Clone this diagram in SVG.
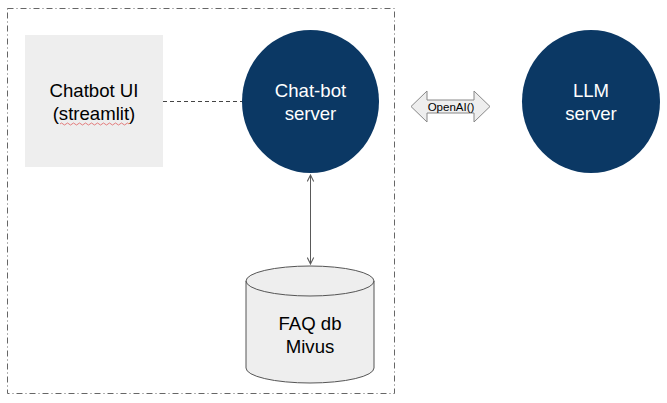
<svg xmlns="http://www.w3.org/2000/svg" width="667" height="403" viewBox="0 0 667 403">
<style>
.lbl{font-family:"Liberation Sans",Arial,sans-serif;font-size:18.6px;text-anchor:middle}
.dark{fill:#0b3864}
.w{fill:#ffffff}
.b{fill:#000000}
</style>
<defs>
<marker id="ah" viewBox="0 0 10 10" refX="9" refY="5" markerWidth="8" markerHeight="8" orient="auto-start-reverse" markerUnits="userSpaceOnUse">
<path d="M1,1 L9,5 L1,9" fill="none" stroke="#595959" stroke-width="1.3"/>
</marker>
</defs>
<rect width="667" height="403" fill="#ffffff"/>
<g id="frame">
<rect x="7.5" y="8.5" width="387" height="385" fill="none" stroke="#666666" stroke-width="1" stroke-dasharray="6,3,1,3"/>
</g>
<g id="connectors">
<line x1="163" y1="101.5" x2="242" y2="101.5" stroke="#444444" stroke-width="1" stroke-dasharray="4,3"/>
<line x1="310.5" y1="175" x2="310.5" y2="264" stroke="#595959" stroke-width="1" marker-start="url(#ah)" marker-end="url(#ah)"/>
</g>
<g id="chatbot-ui">
<rect x="25" y="35" width="138" height="132" fill="#eeeeee"/>
<text class="lbl b" x="94" y="97">Chatbot UI</text>
<text class="lbl b" x="94" y="120">(streamlit)</text>
<path d="M60,124 q1.5,-2 3,0 t3,0 t3,0 t3,0 t3,0 t3,0 t3,0 t3,0 t3,0 t3,0 t3,0 t3,0 t3,0 t3,0 t3,0 t3,0 t3,0 t3,0 t3,0 t3,0 t3,0 t3,0 t3,0" fill="none" stroke="#e06060" stroke-width="0.8"/>
</g>
<g id="chatbot-server">
<ellipse class="dark" cx="310.5" cy="101.5" rx="68.5" ry="71.5"/>
<text class="lbl w" x="310.5" y="97">Chat-bot</text>
<text class="lbl w" x="310.5" y="120">server</text>
</g>
<g id="openai">
<polygon points="411,106.5 427,91 427,100 474,100 474,91 490,106.5 474,122 474,113 427,113 427,122" fill="#eeeeee" stroke="#888888" stroke-width="1"/>
<text x="451" y="111" font-family="'Liberation Sans',Arial,sans-serif" font-size="11.5" text-anchor="middle" fill="#000000">OpenAI()</text>
</g>
<g id="llm-server">
<ellipse class="dark" cx="591" cy="101.5" rx="69" ry="71.5"/>
<text class="lbl w" x="591" y="97">LLM</text>
<text class="lbl w" x="591" y="120">server</text>
</g>
<g id="faq-db">
<path d="M246,281 L246,368 A64,15 0 0 0 374,368 L374,281 A64,15 0 0 0 246,281 Z" fill="#eeeeee" stroke="#555555" stroke-width="1"/>
<path d="M246,281 A64,15 0 0 0 374,281" fill="none" stroke="#555555" stroke-width="1"/>
<text class="lbl b" x="310" y="330">FAQ db</text>
<text class="lbl b" x="310" y="353">Mivus</text>
</g>
</svg>
